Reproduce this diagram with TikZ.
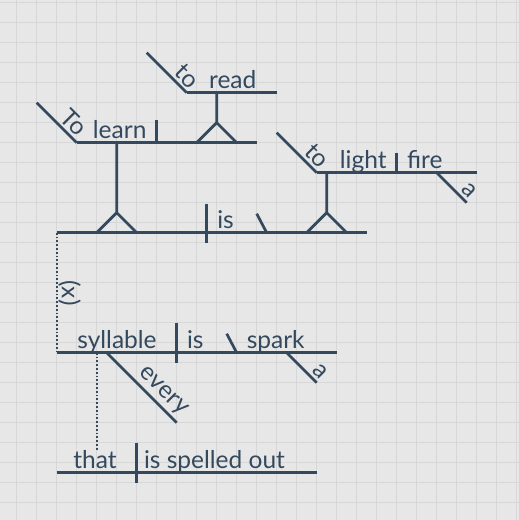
\documentclass[tikz,border=0pt]{standalone}
\usepackage{fontspec}
\setmainfont{Lato}
\definecolor{ink}{HTML}{34495E}
\definecolor{paper}{HTML}{E7E7E7}
\definecolor{gridgray}{HTML}{D7D7D7}
\tikzset{
  rule/.style={ink, line width=2.7pt},
  guide/.style={ink, line width=1.8pt, dash pattern=on 1.8pt off 2pt},
  word/.style={ink, anchor=base, inner sep=0pt, font=\fontsize{24.5}{26}\selectfont},
  slant word/.style={ink, sloped, above, inner sep=2.5pt, font=\fontsize{24.5}{26}\selectfont},
}
\begin{document}
\begin{tikzpicture}[x=1pt, y=-1pt]

\useasboundingbox[fill=paper] (0,0) rectangle (519,520);
\foreach \k in {0,...,25} {
  \draw[gridgray, line width=1.5pt] (16.7+20*\k, 0) -- (16.7+20*\k, 520);
  \draw[gridgray, line width=1.5pt] (0, 2.7+20*\k) -- (519, 2.7+20*\k);
}

% to read
\draw[rule] (146.7,52.7) -- (186.7,92.7) node[slant word, pos=.8] (to1) {to};
\draw[rule] (186.7,92.7) -- (276.7,92.7);
\node[word] (read) at (232.7,88.7) {read};
\draw[rule] (216.7,92.7) -- (216.7,122.7) -- (196.7,142.7) (216.7,122.7) -- (236.7,142.7);

% To learn
\draw[rule] (36.7,102.7) -- (76.7,142.7) node[slant word, pos=.71] (to2) {To};
\draw[rule] (76.7,142.7) -- (256.7,142.7);
\draw[rule] (156.7,119.7) -- (156.7,142.7);
\node[word] (learn) at (119.7,138.7) {learn};
\draw[rule] (116.7,142.7) -- (116.7,212.7) -- (96.7,232.7) (116.7,212.7) -- (136.7,232.7);

% main line
\draw[rule] (56.7,232.7) -- (366.7,232.7);
\draw[rule] (206.7,203.7) -- (206.7,242.7);
\node[word] (is1) at (225.5,228.7) {is};
\draw[rule] (256.7,213.7) -- (266.7,232.7);

% to light fire
\draw[rule] (276.7,132.7) -- (316.7,172.7) node[slant word, pos=.79] (to3) {to};
\draw[rule] (316.7,172.7) -- (476.7,172.7);
\draw[rule] (396.7,152.7) -- (396.7,172.7);
\node[word] (light) at (363.2,168.7) {light};
\node[word] (fire) at (424.8,168.7) {fire};
\draw[rule] (436.7,172.7) -- (466.7,202.7) node[slant word, pos=.84] (a1) {a};
\draw[rule] (326.7,172.7) -- (326.7,212.7) -- (306.7,232.7) (326.7,212.7) -- (346.7,232.7);

% (x)
\draw[guide] (56.7,232.7) -- (56.7,352.7);
\node[ink, rotate=-90, inner sep=0pt, font=\fontsize{24.5}{26}\selectfont] (x) at (69.5,293) {(x)};

% syllable is spark
\draw[rule] (56.7,352.7) -- (336.7,352.7);
\draw[rule] (176.7,322.7) -- (176.7,362.7);
\node[word] (syllable) at (117,348.7) {syllable};
\node[word] (is2) at (195.3,348.7) {is};
\draw[rule] (226.7,333.7) -- (236.7,352.7);
\node[word] (spark) at (275.7,348.7) {spark};
\draw[rule] (106.7,352.7) -- (176.7,422.7) node[slant word, pos=.68] (every) {every};
\draw[rule] (286.7,352.7) -- (316.7,382.7) node[slant word, pos=.86] (a2) {a};

% that is spelled out
\draw[rule] (56.7,472.7) -- (316.7,472.7);
\draw[rule] (136.7,442.7) -- (136.7,482.7);
\node[word] (that) at (95,468.7) {that};
\node[word] (spelled) at (214.5,468.7) {is spelled out};
\coordinate (rel) at (96.7,352.7);
\draw[guide] (rel) -- (rel |- that.north);

\end{tikzpicture}
\end{document}
